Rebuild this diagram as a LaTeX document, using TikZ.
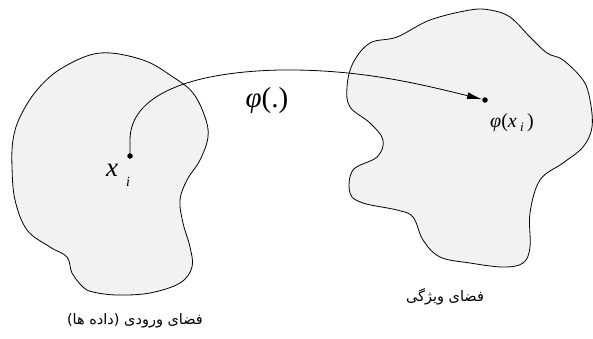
\documentclass[tikz,border=0pt]{standalone}
\usepackage{fontspec}
\setmainfont{Liberation Serif}
\newfontfamily\arabicfont[Script=Arabic]{DejaVu Sans}
\TeXXeTstate=1
\usetikzlibrary{arrows.meta}
\tikzset{
  blob/.style={draw=black, fill=gray!10, line width=0.8pt},
  dotnode/.style={circle, fill=black, inner sep=0pt, minimum size=5.5pt},
  maplabel/.style={inner sep=0pt, font=\fontsize{29}{31}\selectfont\itshape},
  pointlabel/.style={inner sep=0pt},
  fa/.style={inner sep=0pt, font=\arabicfont\fontsize{14.5}{16}\selectfont},
  maparrow/.style={line width=0.8pt, -{Latex[length=15pt,width=7pt]}}
}
\begin{document}
\begin{tikzpicture}[x=1pt,y=-1pt]
\useasboundingbox (0,0) rectangle (593,338);
% input space blob
\draw[blob] plot[smooth cycle, tension=0.6] coordinates {
 (100,53) (143,60) (173,77) (193,93) (205,117) (208,137) (200,160) (187,180)
 (180,200) (183,223) (190,247) (192,267) (180,283) (150,293) (117,295) (93,292)
 (83,287) (72,273) (67,257) (50,247) (27,230) (15,200) (12,167) (13,140)
 (20,117) (37,90) (62,68)};
% feature space blob
\draw[blob] plot[smooth cycle, tension=0.6] coordinates {
 (470,10) (490,10) (510,17) (530,37) (547,53) (563,60) (583,80) (590,100)
 (592,127) (583,147) (563,163) (540,180) (530,213) (530,247) (523,263)
 (503,267) (470,263) (440,257) (423,240) (413,217) (397,210) (363,203)
 (350,193) (353,170) (377,157) (383,140) (370,123) (350,107) (347,87)
 (353,63) (370,43) (397,37) (430,20)};
% points
\node[dotnode] (xi) at (130,156) {};
\node[dotnode] (phixi) at (485,100) {};
% labels
\node[pointlabel, font=\fontsize{27}{29}\selectfont\itshape] (xlab) at (112,170) {x};
\node[pointlabel, font=\fontsize{14}{16}\selectfont\itshape] (ilab) at (128,182) {i};
\node[maplabel] (phimap) at (267,101) {φ\upshape(.)};
\node[pointlabel, font=\fontsize{20}{22}\selectfont] (philab) at (512,123)
  {\itshape φ\upshape(\itshape x\,\raisebox{-0.35ex}{\fontsize{13}{15}\selectfont i}\upshape\,)};
% arrow
\draw[maparrow] (xi.center) -- (130,140) .. controls (130,95) and (190,72) .. (280,70)
  .. controls (360,69) and (420,84) .. (phixi);
% Persian captions
\node[fa] (incap) at (135,321) {\beginR فضای ورودی (داده ها)\endR};
\node[fa] (featcap) at (445,297) {\beginR فضای ویژگی\endR};
\end{tikzpicture}
\end{document}
